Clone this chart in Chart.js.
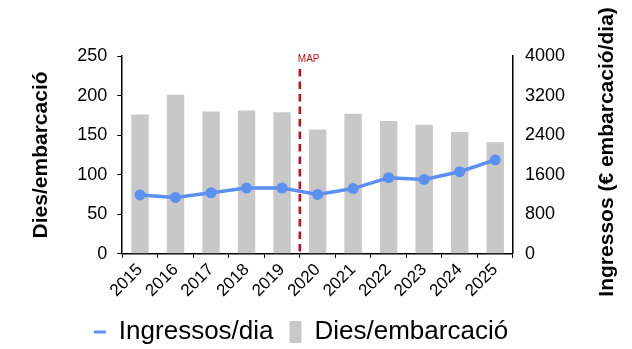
<!DOCTYPE html>
<html>
<head>
<meta charset="utf-8">
<script src="https://cdn.jsdelivr.net/npm/chart.js@4.4.1/dist/chart.umd.min.js"></script>
<style>
  html, body { margin: 0; padding: 0; background: #fff; }
  #wrap { width: 632px; height: 349px; }
</style>
</head>
<body>
<div id="wrap"><canvas id="chart"></canvas></div>
<script>
// dades
const years = ['2015', '2016', '2017', '2018', '2019', '2020', '2021', '2022', '2023', '2024', '2025'];
const diesEmbarcacio = [176, 201, 180, 181, 179, 157, 177, 168, 163, 154, 141];
const ingressosDia = [1190, 1140, 1235, 1330, 1330, 1200, 1320, 1540, 1505, 1660, 1900];
const leftTicks = [0, 50, 100, 150, 200, 250];
const rightTicks = [0, 800, 1600, 2400, 3200, 4000];
const mapBetween = ['2019', '2020'];

const font = 'Liberation Sans, Arial, sans-serif';
const blue = '#5b8ff0';
const grey = '#c8c8c8';
const mapRed = '#b0181e';

// linia discontinua MAP + titol eix dret
const extras = {
    id: 'extras',
    afterDatasetsDraw(chart) {
        const ctx = chart.ctx;
        const x = chart.scales.x;
        const area = chart.chartArea;
        const mx = (x.getPixelForValue(years.indexOf(mapBetween[0])) + x.getPixelForValue(years.indexOf(mapBetween[1]))) / 2;

        ctx.save();
        ctx.strokeStyle = mapRed;
        ctx.lineWidth = 2.6;
        ctx.setLineDash([7.5, 5]);
        ctx.beginPath();
        ctx.moveTo(mx, area.top + 13);
        ctx.lineTo(mx, area.bottom);
        ctx.stroke();
        ctx.setLineDash([]);

        ctx.fillStyle = mapRed;
        ctx.font = '10px ' + font;
        ctx.textAlign = 'left';
        ctx.textBaseline = 'middle';
        ctx.fillText('MAP', mx - 2, area.top + 3);
        ctx.restore();
    },
    afterDraw(chart) {
        const ctx = chart.ctx;
        const yR = chart.scales.yR;
        const area = chart.chartArea;
        ctx.save();
        ctx.translate(yR.right + 30, (area.top + area.bottom) / 2 - 3);
        ctx.rotate(-Math.PI / 2);
        ctx.fillStyle = '#000';
        ctx.font = 'bold 21px ' + font;
        ctx.textAlign = 'center';
        ctx.textBaseline = 'middle';
        ctx.fillText('Ingressos (€ embarcació/dia)', 0, 0);
        ctx.restore();
    }
};

new Chart(document.getElementById('chart'), {
    type: 'bar',
    data: {
        labels: years,
        datasets: [{
            type: 'line',
            label: 'Ingressos/dia',
            data: ingressosDia,
            yAxisID: 'yR',
            borderColor: blue,
            backgroundColor: blue,
            borderWidth: 3.5,
            pointRadius: 5.5,
            pointBackgroundColor: blue,
            pointBorderWidth: 0,
            tension: 0,
            order: 0
        }, {
            type: 'bar',
            label: 'Dies/embarcació',
            data: diesEmbarcacio,
            yAxisID: 'y',
            backgroundColor: grey,
            barPercentage: 0.49,
            categoryPercentage: 1,
            order: 1
        }]
    },
    options: {
        responsive: true,
        maintainAspectRatio: false,
        animation: false,
        layout: {
            padding: { top: 56, left: 25, right: 55, bottom: -6 }
        },
        scales: {
            x: {
                grid: { display: true, drawOnChartArea: false, color: '#000', tickLength: 4 },
                border: { color: '#000', width: 1.5 },
                ticks: {
                    color: '#000',
                    font: { family: font, size: 17 },
                    minRotation: 45,
                    maxRotation: 45,
                    padding: 2
                }
            },
            y: {
                position: 'left',
                min: 0,
                max: 250,
                afterBuildTicks(scale) { scale.ticks = leftTicks.map(v => ({ value: v })); },
                grid: { drawOnChartArea: false, color: '#000', tickLength: 5 },
                border: { color: '#000', width: 1.5 },
                ticks: { color: '#000', font: { family: font, size: 18 }, padding: 10 },
                title: {
                    display: true,
                    text: 'Dies/embarcació',
                    color: '#000',
                    font: { family: font, size: 21, weight: 'bold' },
                    padding: { top: 4, bottom: 13 }
                }
            },
            yR: {
                position: 'right',
                min: 0,
                max: 4000,
                afterBuildTicks(scale) { scale.ticks = rightTicks.map(v => ({ value: v })); },
                grid: { drawOnChartArea: false, drawTicks: false },
                border: { color: '#000', width: 1.5 },
                ticks: {
                    color: '#000',
                    font: { family: font, size: 18 },
                    padding: 12,
                    callback: v => String(v)
                }
            }
        },
        plugins: {
            legend: {
                position: 'bottom',
                labels: {
                    color: '#000',
                    font: { family: font, size: 26 },
                    usePointStyle: true,
                    pointStyleWidth: 12,
                    boxHeight: 22,
                    padding: 16,
                    generateLabels(chart) {
                        return chart.data.datasets.map((ds, i) => ({
                            text: ds.label,
                            datasetIndex: i,
                            fillStyle: ds.type === 'line' ? blue : grey,
                            strokeStyle: ds.type === 'line' ? blue : grey,
                            lineWidth: ds.type === 'line' ? 3 : 0,
                            pointStyle: ds.type === 'line' ? 'line' : 'rect',
                            fontColor: '#000'
                        }));
                    }
                }
            },
            tooltip: { enabled: false }
        }
    },
    plugins: [extras]
});
</script>
</body>
</html>
